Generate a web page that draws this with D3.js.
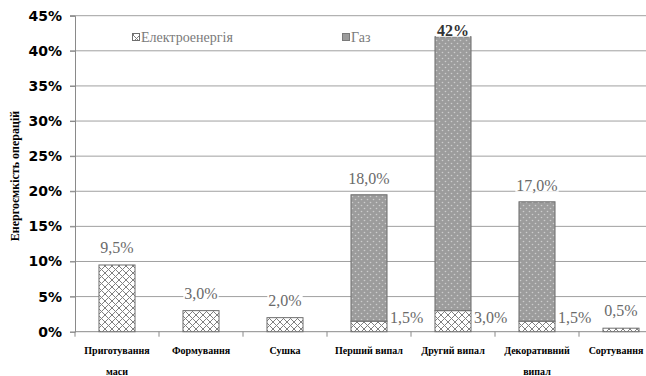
<!DOCTYPE html>
<html>
<head>
<meta charset="utf-8">
<script src="https://cdn.jsdelivr.net/npm/d3@7"></script>
<style>
  html, body { margin: 0; padding: 0; background: #fff; }
  svg { display: block; overflow: hidden; }
</style>
</head>
<body>
<script>
// Energy intensity of production operations: electricity and gas shares
const categories = [
  ["Приготування", "маси"],
  ["Формування"],
  ["Сушка"],
  ["Перший випал"],
  ["Другий випал"],
  ["Декоративний", "випал"],
  ["Сортування"]
];
const electricity = [9.5, 3.0, 2.0, 1.5, 3.0, 1.5, 0.5];
const gas = [0, 0, 0, 18.0, 39.0, 17.0, 0];
const elecLabels = ["9,5%", "3,0%", "2,0%", "1,5%", "3,0%", "1,5%", "0,5%"];
const gasLabels = ["", "", "", "18,0%", "42%", "17,0%", ""];
const yTicks = [0, 5, 10, 15, 20, 25, 30, 35, 40, 45];
const seriesNames = ["Електроенергія", "Газ"];
const yTitle = "Енергоємкість операцій";

const SERIF = "'Liberation Serif', 'DejaVu Serif', serif";
const W = 646, H = 376;
const svg = d3.select("body").append("svg").attr("width", W).attr("height", H);

// fill patterns
const defs = svg.append("defs");
const hatch = defs.append("pattern").attr("id", "hatch")
  .attr("patternUnits", "userSpaceOnUse").attr("width", 7).attr("height", 7);
hatch.append("rect").attr("width", 7).attr("height", 7).attr("fill", "#fff");
hatch.append("path").attr("d", "M0,0L7,7M7,0L0,7M-1,6L1,8M6,-1L8,1M-1,1L1,-1M6,8L8,6")
  .attr("stroke", "#808080").attr("stroke-width", 1).attr("fill", "none");

const dots = defs.append("pattern").attr("id", "dots")
  .attr("patternUnits", "userSpaceOnUse").attr("width", 6).attr("height", 6);
dots.append("rect").attr("width", 6).attr("height", 6).attr("fill", "#9c9c9c");
dots.append("circle").attr("cx", 1.5).attr("cy", 1.5).attr("r", 0.8).attr("fill", "#cdcdcd");
dots.append("circle").attr("cx", 4.5).attr("cy", 4.5).attr("r", 0.8).attr("fill", "#cdcdcd");

const x = d3.scaleBand().domain(d3.range(categories.length))
  .range([75, 663]).paddingInner(0.571).paddingOuter(0.2855);
const y = d3.scaleLinear().domain([0, 45]).range([331.7, 15.7]);
const y0 = y(0);

// gridlines
svg.append("g").selectAll("line").data(yTicks.filter(d => d > 0)).join("line")
  .attr("x1", 70).attr("x2", 663)
  .attr("y1", d => y(d)).attr("y2", d => y(d))
  .attr("stroke", "#a0a0a0").attr("stroke-width", 1);

// y axis
const yAxis = svg.append("g").attr("transform", "translate(75,0)")
  .call(d3.axisLeft(y).tickValues(yTicks).tickSize(5).tickFormat(d => d + "%"));
yAxis.select(".domain").attr("stroke", "#8a8a8a");
yAxis.selectAll(".tick line").attr("stroke", "#8a8a8a");
yAxis.selectAll(".tick text")
  .attr("x", -13)
  .attr("font-family", "DejaVu Sans").attr("font-weight", "bold")
  .attr("font-size", 14).attr("fill", "#000");

// x axis line and band ticks
const xAxis = svg.append("g").attr("transform", `translate(0,${y0})`);
xAxis.append("line").attr("x1", 75).attr("x2", 663)
  .attr("stroke", "#8a8a8a");
xAxis.selectAll(".bt").data(d3.range(categories.length + 1)).join("line")
  .attr("class", "bt")
  .attr("x1", i => 75 + i * x.step()).attr("x2", i => 75 + i * x.step())
  .attr("y1", 0).attr("y2", 5).attr("stroke", "#8a8a8a");

// category labels (kept inside the right edge)
const cat = svg.append("g");
categories.forEach((lines, i) => {
  const t = cat.append("text")
    .attr("y", 354)
    .attr("text-anchor", "middle")
    .attr("font-family", SERIF).attr("font-weight", "bold")
    .attr("font-size", 10).attr("fill", "#000");
  const tspans = lines.map((l, k) => t.append("tspan")
    .attr("x", x(i) + x.bandwidth() / 2)
    .attr("dy", k === 0 ? 0 : 21).text(l));
  const b = t.node().getBBox();
  const shift = Math.min(0, W - 2 - (b.x + b.width));
  tspans.forEach(s => s.attr("x", x(i) + x.bandwidth() / 2 + shift));
});

// bars: electricity at the bottom, gas stacked on top
const rows = electricity.map((e, i) => ({ i, e, g: gas[i] }));
const bars = svg.append("g");
bars.selectAll(".el").data(rows).join("rect").attr("class", "el")
  .attr("x", d => x(d.i)).attr("width", x.bandwidth())
  .attr("y", d => y(d.e)).attr("height", d => y0 - y(d.e))
  .attr("fill", "url(#hatch)").attr("stroke", "#6e6e6e").attr("stroke-width", 1);
bars.selectAll(".gs").data(rows.filter(d => d.g > 0)).join("rect").attr("class", "gs")
  .attr("x", d => x(d.i)).attr("width", x.bandwidth())
  .attr("y", d => y(d.e + d.g))
  .attr("height", d => y(d.e) - y(d.e + d.g))
  .attr("fill", "url(#dots)").attr("stroke", "#6e6e6e").attr("stroke-width", 1);

// value labels
const lab = svg.append("g").attr("font-family", SERIF).attr("font-size", 16);
function label(txt, lx, ly, anchor, color, weight) {
  const t = lab.append("text").attr("x", lx).attr("y", ly)
    .attr("text-anchor", anchor).attr("fill", color)
    .attr("font-weight", weight || "normal").text(txt);
  const b = t.node().getBBox();
  lab.insert("rect", () => t.node())
    .attr("x", b.x - 1).attr("y", b.y + 2).attr("width", b.width + 2).attr("height", b.height - 4)
    .attr("fill", "#fff");
}
rows.forEach(d => {
  const cx = x(d.i) + x.bandwidth() / 2;
  if (d.g > 0) {
    label(elecLabels[d.i], x(d.i) + x.bandwidth() + 3, y0 - 9, "start", "#6a6a6a");
  } else {
    label(elecLabels[d.i], cx, y(d.e) - 12, "middle", "#6a6a6a");
  }
});
rows.filter(d => d.g > 0).forEach(d => {
  const cx = x(d.i) + x.bandwidth() / 2;
  const top = y(d.e + d.g);
  const big = d.e + d.g > 35;
  label(gasLabels[d.i], cx, big ? top - 1 : top - 11, "middle",
    big ? "#333" : "#6a6a6a", big ? "bold" : "normal");
});

// legend
const leg = svg.append("g").attr("font-family", SERIF).attr("font-size", 14).attr("fill", "#7a7a7a");
leg.append("rect").attr("x", 132.5).attr("y", 33.5).attr("width", 7).attr("height", 7)
  .attr("fill", "url(#hatch)").attr("stroke", "#6e6e6e");
leg.append("text").attr("x", 141).attr("y", 41.5).text(seriesNames[0]);
leg.append("rect").attr("x", 342.5).attr("y", 33.5).attr("width", 7).attr("height", 7)
  .attr("fill", "#9c9c9c").attr("stroke", "#7a7a7a");
leg.append("text").attr("x", 351).attr("y", 41.5).text(seriesNames[1]);

// y axis title
svg.append("text")
  .attr("transform", "translate(19,176) rotate(-90)")
  .attr("text-anchor", "middle")
  .attr("font-family", SERIF).attr("font-weight", "bold")
  .attr("font-size", 12).attr("fill", "#000")
  .text(yTitle);
</script>
</body>
</html>
